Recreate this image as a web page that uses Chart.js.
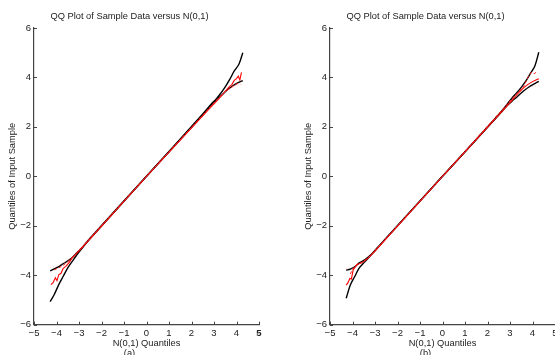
<!DOCTYPE html>
<html>
<head>
<meta charset="utf-8">
<script src="https://cdn.jsdelivr.net/npm/chart.js@4/dist/chart.umd.min.js"></script>
<style>
    html, body { margin: 0; padding: 0; background: #fff; overflow: hidden; width: 555px; height: 355px; }
    canvas { position: absolute; top: 0; }
    #qqA { left: 0; }
    #qqB { left: 278px; }
</style>
</head>
<body>
<canvas id="qqA" width="278" height="358"></canvas>
<canvas id="qqB" width="277" height="358"></canvas>
<script>
// Eixos e textos
const xTicks = [-5, -4, -3, -2, -1, 0, 1, 2, 3, 4, 5];
const yTicks = [-6, -4, -2, 0, 2, 4, 6];
const titleText = 'QQ Plot of Sample Data versus N(0,1)';
const xTitle = 'N(0,1) Quantiles';
const yTitle = 'Quantiles of Input Sample';

// Envelopes (pretas) - mesmos quantis teoricos nos dois painéis
const envX = [-4.28, -4.1, -3.9, -3.7, -3.5, -3.3, -3.1, -2.9, -2.5, 0, 2.5, 2.9, 3.1, 3.3, 3.5, 3.7, 3.9, 4.1, 4.28];

// Painel (a)
const heavyA = [-5.07, -4.78, -4.38, -4.04, -3.7, -3.44, -3.18, -2.95, -2.52, 0, 2.52, 2.95, 3.13, 3.36, 3.62, 3.92, 4.26, 4.52, 5.0];
const lightA = [-3.82, -3.74, -3.65, -3.53, -3.42, -3.28, -3.1, -2.92, -2.49, 0, 2.48, 2.9, 3.08, 3.25, 3.42, 3.57, 3.7, 3.8, 3.87];
const red1XA = [-4.25, -4.15, -4.05, -3.98, -3.9, -3.8, -3.7, -3.6, -3.45, -3.3, -3.1, -2.8, 0, 2.6, 2.9, 3.2, 3.45, 3.65, 3.8, 3.9, 4.0, 4.08, 4.15, 4.22];
const red1YA = [-4.38, -4.3, -4.1, -4.22, -3.98, -3.92, -3.72, -3.65, -3.5, -3.3, -3.12, -2.82, 0, 2.55, 2.84, 3.12, 3.38, 3.6, 3.72, 3.88, 3.95, 4.05, 3.9, 4.2];
const red2XA = [-4.1, -3.9, -3.7, -3.5, -3.2, 0, 3.2, 3.5, 3.7, 3.9, 4.1];
const red2YA = [-3.78, -3.7, -3.6, -3.45, -3.2, 0, 3.17, 3.42, 3.55, 3.68, 3.78];
const pinkXA = [-4.28, -4.1, -3.9, -3.6, -3.3, 0, 3.3, 3.6, 3.9, 4.1, 4.28];
const pinkYA = [-3.68, -3.66, -3.62, -3.45, -3.25, 0, 3.25, 3.48, 3.65, 3.7, 3.72];

// Painel (b)
const heavyB = [-4.93, -4.4, -4.05, -3.7, -3.5, -3.3, -3.1, -2.9, -2.5, 0, 2.5, 2.95, 3.18, 3.38, 3.6, 3.85, 4.15, 4.45, 5.02];
const lightB = [-3.8, -3.75, -3.66, -3.5, -3.4, -3.26, -3.1, -2.9, -2.49, 0, 2.48, 2.88, 3.05, 3.2, 3.37, 3.52, 3.65, 3.75, 3.84];
const red1XB = [-4.28, -4.2, -4.12, -4.05, -3.97, -3.82, -3.68, -3.5, -3.3, -3.0, 0, 2.8, 3.1, 3.4, 3.6, 3.8, 4.0, 4.15, 4.28];
const red1YB = [-4.4, -4.3, -4.13, -4.15, -3.79, -3.59, -3.52, -3.45, -3.3, -3.02, 0, 2.78, 3.08, 3.4, 3.58, 3.72, 3.83, 3.9, 3.95];
const red2XB = [-4.1, -3.95, -3.8, -3.6, -3.3, 0, 3.3, 3.6, 3.8, 3.95, 4.1, 4.2];
const red2YB = [-3.95, -3.7, -3.55, -3.5, -3.3, 0, 3.35, 3.62, 4.0, 4.2, 4.15, 4.28];
const pinkXB = [-4.3, -4.1, -3.9, -3.6, -3.3, 0, 3.3, 3.6, 3.9, 4.1, 4.3];
const pinkYB = [-3.73, -3.73, -3.7, -3.5, -3.28, 0, 3.28, 3.5, 3.62, 3.65, 3.66];

const FONT = 'Liberation Sans, Arial, Helvetica, sans-serif';
const TEXT = '#222';
const AXIS = '#444';

document.addEventListener('DOMContentLoaded', () => {

    const toPoints = (xs, ys) => xs.map((x, i) => ({ x: x, y: ys[i] }));

    // Traços curtos para dentro, como no MATLAB
    const inwardTicks = {
        id: 'inwardTicks',
        afterDatasetsDraw(chart) {
            const { ctx, chartArea, scales: { x, y } } = chart;
            ctx.save();
            ctx.strokeStyle = AXIS;
            ctx.lineWidth = 1;
            ctx.beginPath();
            x.ticks.forEach(t => {
                const px = Math.round(x.getPixelForValue(t.value)) + 0.5;
                ctx.moveTo(px, chartArea.bottom);
                ctx.lineTo(px, chartArea.bottom - 3);
            });
            y.ticks.forEach(t => {
                const py = Math.round(y.getPixelForValue(t.value)) + 0.5;
                ctx.moveTo(chartArea.left, py);
                ctx.lineTo(chartArea.left + 3, py);
            });
            ctx.stroke();
            ctx.restore();
        }
    };

    const line = (data, color, width, dash, tension) => ({
        data: data,
        showLine: true,
        borderColor: color,
        backgroundColor: color,
        borderWidth: width,
        borderDash: dash,
        pointRadius: 0,
        tension: tension,
    });

    const makeChart = (id, panel, leftPad, rightPad, d) => new Chart(document.getElementById(id), {
        type: 'scatter',
        data: {
            datasets: [
                line(toPoints(d.pinkX, d.pinkY), 'rgba(255,110,110,0.45)', 1, [1, 2], 0),
                line(toPoints(d.red2X, d.red2Y), '#ff1a1a', 1, [3, 2], 0),
                line(toPoints(d.red1X, d.red1Y), '#ff0000', 1.1, [], 0),
                line(toPoints(envX, d.heavy), '#000', 1.4, [], 0.3),
                line(toPoints(envX, d.light), '#000', 1.4, [], 0.3),
            ]
        },
        options: {
            responsive: false,
            animation: false,
            devicePixelRatio: 1,
            layout: { padding: { left: leftPad, right: rightPad, top: 0, bottom: 0 } },
            plugins: {
                legend: { display: false },
                tooltip: { enabled: false },
                title: {
                    display: true,
                    text: titleText,
                    color: TEXT,
                    font: { family: FONT, size: 9.3, weight: 'normal', lineHeight: 1.2 },
                    padding: { top: 10.5, bottom: 6.3 },
                },
                subtitle: {
                    display: true,
                    position: 'bottom',
                    text: panel,
                    color: TEXT,
                    font: { family: FONT, size: 9.3, lineHeight: 1 },
                    padding: { top: 0, bottom: 0 },
                }
            },
            scales: {
                x: {
                    type: 'linear',
                    min: -5,
                    max: 5,
                    afterBuildTicks: s => { s.ticks = xTicks.map(v => ({ value: v })); },
                    afterFit: s => { s.height = 24; s.paddingLeft = 0; s.paddingRight = 0; },
                    grid: { display: false, drawTicks: false },
                    border: { display: true, color: AXIS, width: 1.2 },
                    ticks: {
                        padding: 3,
                        color: TEXT,
                        maxRotation: 0,
                        autoSkip: false,
                        font: ctx => ({ family: FONT, size: 9.5, weight: (panel === '(a)' && ctx.tick && ctx.tick.value === 5) ? 'bold' : 'normal' }),
                        callback: v => String(v).replace('-', '\u2212'),
                    },
                    title: {
                        display: true,
                        text: xTitle,
                        color: TEXT,
                        font: { family: FONT, size: 9.3, lineHeight: 1 },
                        padding: { top: 0, bottom: 1 },
                    }
                },
                y: {
                    type: 'linear',
                    min: -6,
                    max: 6,
                    afterBuildTicks: s => { s.ticks = yTicks.map(v => ({ value: v })); },
                    afterFit: s => { s.width = 34; },
                    grid: { display: false, drawTicks: false },
                    border: { display: true, color: AXIS, width: 1.2 },
                    ticks: {
                        padding: 3,
                        color: TEXT,
                        font: { family: FONT, size: 9.5 },
                        callback: v => String(v).replace('-', '\u2212'),
                    },
                    title: {
                        display: true,
                        text: yTitle,
                        color: TEXT,
                        font: { family: FONT, size: 9.3, lineHeight: 1.2 },
                        padding: { top: 6.5, bottom: 0 },
                    }
                }
            }
        },
        plugins: [inwardTicks]
    });

    // Renderiza os dois painéis
    makeChart('qqA', '(a)', 0, 19, {
        heavy: heavyA, light: lightA,
        red1X: red1XA, red1Y: red1YA, red2X: red2XA, red2Y: red2YA, pinkX: pinkXA, pinkY: pinkYA
    });
    makeChart('qqB', '(b)', 18, 0, {
        heavy: heavyB, light: lightB,
        red1X: red1XB, red1Y: red1YB, red2X: red2XB, red2Y: red2YB, pinkX: pinkXB, pinkY: pinkYB
    });
});
</script>
</body>
</html>
